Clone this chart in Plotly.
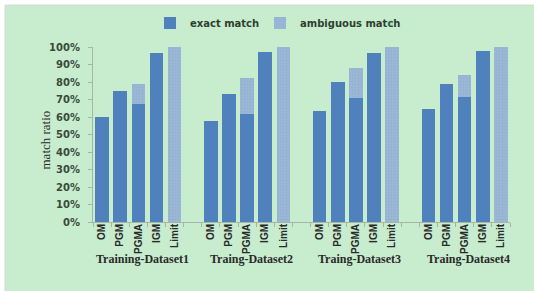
import plotly.graph_objects as go

datasets = ["Training-Dataset1", "Traing-Dataset2", "Traing-Dataset3", "Traing-Dataset4"]
methods = ["OM", "PGM", "PGMA", "IGM", "Limit"]

# percentages, per method across the four datasets
exact = {
    "OM":    [60.0, 58.0, 63.5, 64.5],
    "PGM":   [75.0, 73.0, 80.0, 79.0],
    "PGMA":  [67.5, 62.0, 71.0, 71.5],
    "IGM":   [96.7, 97.0, 96.7, 97.5],
    "Limit": [0.0, 0.0, 0.0, 0.0],
}
ambiguous = {
    "OM":    [0.0, 0.0, 0.0, 0.0],
    "PGM":   [0.0, 0.0, 0.0, 0.0],
    "PGMA":  [11.5, 20.5, 17.0, 12.5],
    "IGM":   [0.0, 0.0, 0.0, 0.0],
    "Limit": [100.0, 100.0, 100.0, 100.0],
}
y_ticks = [0, 10, 20, 30, 40, 50, 60, 70, 80, 90, 100]

slot = len(methods) + 1  # one blank slot between groups
xs, ex, am, labels = [], [], [], []
for g, ds in enumerate(datasets):
    for i, m in enumerate(methods):
        xs.append(g * slot + i)
        ex.append(exact[m][g] / 100)
        am.append(ambiguous[m][g] / 100)
        labels.append(m)
n_slots = len(datasets) * slot - 1

W, H = 534, 291
L, R, T, B = 93, 24, 47, 69
pw, ph = W - L - R, H - T - B

fig = go.Figure()
fig.add_bar(x=xs, y=ex, name="<b>exact match</b>", width=0.75,
            marker=dict(color="#4f81bd", line=dict(width=0)))
fig.add_bar(x=xs, y=am, name="<b>ambiguous match</b>", width=0.75,
            marker=dict(color="#95b3d7", line=dict(width=0),
                        pattern=dict(shape=".", fgcolor="#86a6c8", bgcolor="#9cb8d6",
                                     size=3, solidity=0.3)))
# invisible spacer entry so the last legend label is not clipped
fig.add_scatter(x=[None], y=[None], mode="markers", name=" ",
                marker=dict(opacity=0), hoverinfo="skip")

def px_x(p):
    return (p - L) / pw

def px_y(p):
    return (H - B - p) / ph

fig.add_shape(type="rect", xref="paper", yref="paper",
              x0=px_x(5), x1=px_x(540), y0=px_y(300), y1=px_y(5),
              fillcolor="#c8ecce", line=dict(color="#d4dcd4", width=1), layer="below")

for g, ds in enumerate(datasets):
    fig.add_annotation(x=g * slot + (len(methods) - 1) / 2, y=px_y(268), xref="x", yref="paper",
                       text=f"<b>{ds}</b>", showarrow=False, xshift=4,
                       font=dict(family="Liberation Serif", size=12, color="#2a2a2a"))

fig.add_annotation(x=px_x(35), y=px_y(140), xref="paper", yref="paper",
                   text="match ratio", textangle=-90, showarrow=False,
                   font=dict(family="Liberation Serif", size=13, color="#2a2a2a"))

fig.update_layout(
    width=W, height=H, margin=dict(l=L, r=R, t=T, b=B, autoexpand=False),
    paper_bgcolor="white", plot_bgcolor="rgba(0,0,0,0)",
    barmode="stack", showlegend=True,
    legend=dict(orientation="h", x=px_x(150), y=px_y(23), xanchor="left", yanchor="middle",
                font=dict(family="DejaVu Sans", size=10, color="#2f3f2f"),
                bgcolor="rgba(0,0,0,0)", entrywidth=65, traceorder="normal"),
    font=dict(family="DejaVu Sans", color="#2f3f2f"),
)
fig.update_xaxes(range=[-0.5, n_slots - 0.5], tickvals=xs, ticktext=[f"<b>{t}</b>" for t in labels],
                 tickangle=-90, ticks="", showgrid=False, zeroline=False, automargin=False,
                 showline=True, linecolor="#a8b4a8", linewidth=1, ticklabelstandoff=-3,
                 tickfont=dict(family="Liberation Sans", size=10, color="#2a2a2a"),
                 minor=dict(tick0=-0.5, dtick=1, ticks="outside", ticklen=4, tickcolor="#a8b4a8",
                            showgrid=False))
fig.update_yaxes(range=[0, 1], tickvals=[v / 100 for v in y_ticks],
                 ticktext=[f"<b>{v}%</b>" for v in y_ticks], automargin=False,
                 ticks="outside", ticklen=4, tickcolor="#a8b4a8", showgrid=False, zeroline=False,
                 showline=True, linecolor="#a8b4a8", linewidth=1, ticklabelstandoff=6,
                 tickfont=dict(family="DejaVu Sans", size=10, color="#3a4a3a"))

fig.write_html("out.html", config={"displayModeBar": False},
               post_script="document.body.style.margin='0';")
